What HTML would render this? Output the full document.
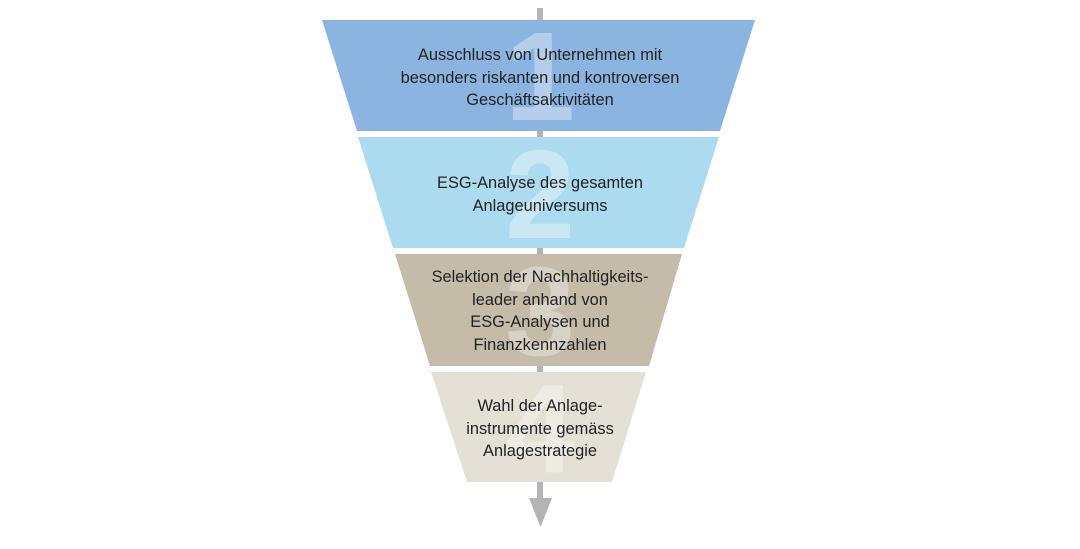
<!DOCTYPE html>
<html><head><meta charset="utf-8"><style>
body{margin:0;width:1080px;height:549px;background:#fff;overflow:hidden;position:relative;font-family:"Liberation Sans",sans-serif}
svg{position:absolute;left:0;top:0}
.t{position:absolute;left:290px;width:500px;text-align:center;font-size:16.4px;line-height:22.5px;color:#222}
</style></head><body>
<svg width="1080" height="549">
<rect x="537" y="8" width="6" height="492" fill="#b4b4b4"/>
<polygon points="529,498 552,498 540.5,527" fill="#b4b4b4"/>
<polygon points="322,20 755,20 720,131 357,131" fill="#8cb4e1"/>
<polygon points="358,137 719,137 684,248 393,248" fill="#acdaee"/>
<polygon points="395,254 682,254 649,366 430,366" fill="#c4bba8"/>
<polygon points="431,372 646,372 612,482 467,482" fill="#e4e0d6"/>
<g font-family="Liberation Sans,sans-serif" font-weight="bold" font-size="126" fill="#ffffff" fill-opacity="0.35" text-anchor="middle">
<text x="540" y="120">1</text>
<text x="540" y="238">2</text>
<text x="540" y="355">3</text>
<text x="540" y="472">4</text>
</g>
</svg>
<div class="t" style="top:44px">Ausschluss von Unternehmen mit<br>besonders riskanten und kontroversen<br>Geschäftsaktivitäten</div>
<div class="t" style="top:172px">ESG-Analyse des gesamten<br>Anlageuniversums</div>
<div class="t" style="top:266px">Selektion der Nachhaltigkeits-<br>leader anhand von<br>ESG-Analysen und<br>Finanzkennzahlen</div>
<div class="t" style="top:395px">Wahl der Anlage-<br>instrumente gemäss<br>Anlagestrategie</div>
</body></html>
